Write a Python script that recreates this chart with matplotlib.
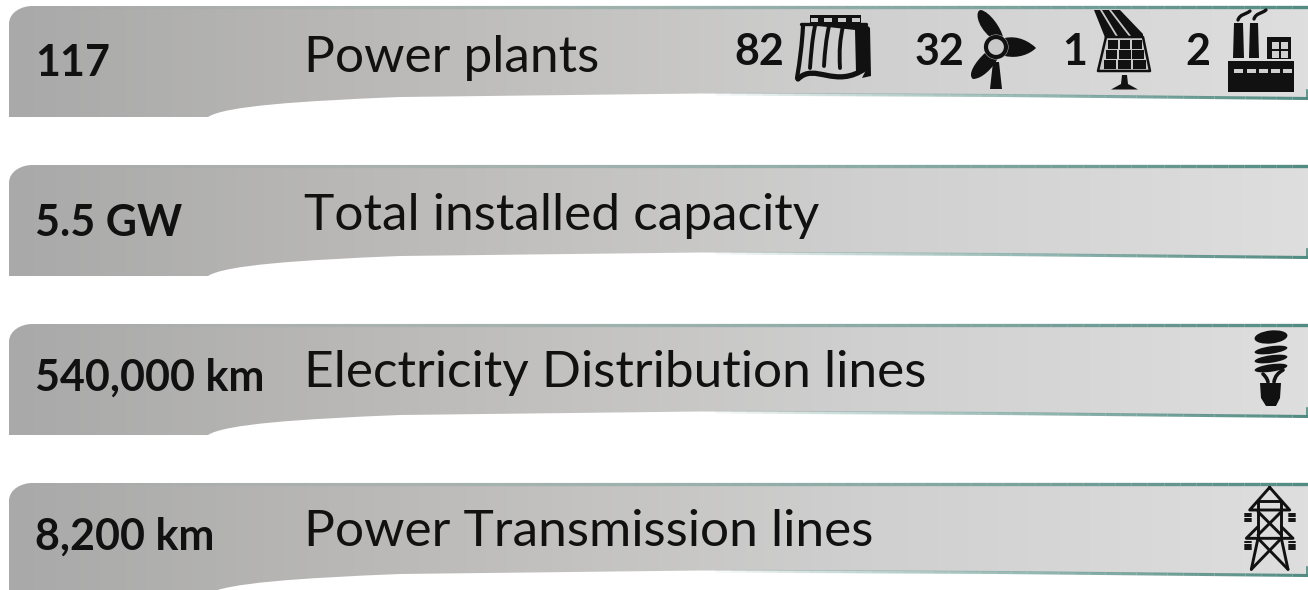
import matplotlib
matplotlib.use("Agg")
import matplotlib.pyplot as plt
from matplotlib.patches import PathPatch, Polygon, Circle, Rectangle, Ellipse
from matplotlib.path import Path
from matplotlib.collections import LineCollection
from matplotlib.colors import LinearSegmentedColormap
import numpy as np

values = ["117", "5.5 GW", "540,000 km", "8,200 km"]
labels = ["Power plants", "Total installed capacity",
          "Electricity Distribution lines", "Power Transmission lines"]
plant_counts = ["82", "32", "1", "2"]
plant_count_x = [759, 940, 1075, 1198]

tops = [6, 165, 324, 483]
value_base = [70, 71, 67, 67]
label_base = [66, 65, 63, 63]
INK = "#111111"
TEAL = "#4f8a80"
BG = "#c9c9c9"

plt.rcParams["font.family"] = ["Lato", "DejaVu Sans"]

fig = plt.figure(figsize=(13.08, 5.90), dpi=100)
ax = fig.add_axes([0, 0, 1, 1])
ax.set_xlim(0, 1308)
ax.set_ylim(590, 0)
ax.axis("off")

grey = LinearSegmentedColormap.from_list("g", ["#a9a9a9", "#bdbcba", "#d0d0d0", "#dedede"])


def banner(top):
    d = top - 6
    verts = [(9, 24 + d), (9, 12 + d), (22, 6 + d), (32, 6 + d), (1308, 6 + d),
             (1308, 98 + d), (1000, 94.5 + d), (700, 93.5 + d), (400, 97 + d),
             (300, 101 + d), (225, 106 + d), (208, 117 + d), (9, 117 + d), (9, 24 + d)]
    codes = [Path.MOVETO, Path.CURVE4, Path.CURVE4, Path.CURVE4, Path.LINETO,
             Path.LINETO, Path.LINETO, Path.LINETO, Path.LINETO,
             Path.CURVE4, Path.CURVE4, Path.CURVE4, Path.LINETO, Path.CLOSEPOLY]
    patch = PathPatch(Path(verts, codes), fc="none", ec="none")
    ax.add_patch(patch)
    grad = np.linspace(0, 1, 256).reshape(1, -1)
    im = ax.imshow(grad, cmap=grey, extent=(9, 1308, 118 + d, 6 + d), aspect="auto", zorder=1)
    im.set_clip_path(patch)
    ax.set_xlim(0, 1308)
    ax.set_ylim(590, 0)

    # teal edges fading in towards the right
    xs = np.linspace(40, 1308, 80)
    segs = [[(xs[i], 6.5 + d), (xs[i + 1], 6.5 + d)] for i in range(79)]
    cols = [(0.31, 0.54, 0.50, (x / 1308) ** 1.5) for x in xs[:-1]]
    ax.add_collection(LineCollection(segs, colors=cols, linewidths=2.4, zorder=2))
    xs = np.linspace(700, 1308, 40)
    ys = np.interp(xs, [700, 1000, 1308], [94, 95.5, 98.5]) + d
    segs = [[(xs[i], ys[i]), (xs[i + 1], ys[i + 1])] for i in range(39)]
    cols = [(0.31, 0.54, 0.50, ((x - 700) / 608) ** 0.8) for x in xs[:-1]]
    ax.add_collection(LineCollection(segs, colors=cols, linewidths=2.2, zorder=2))
    ax.plot([1307, 1307], [90 + d, 98 + d], color=TEAL, lw=1.2, zorder=2)


def poly(pts, fc=INK, z=4):
    ax.add_patch(Polygon(pts, closed=True, fc=fc, ec="none", zorder=z))


def stroke(pts, lw=1.6, c=INK, z=4):
    p = np.array(pts)
    ax.plot(p[:, 0], p[:, 1], color=c, lw=lw, solid_capstyle="round", zorder=z)


def curve(pts, lw=2.0, z=4):
    codes = [Path.MOVETO] + [Path.CURVE4] * (len(pts) - 1)
    ax.add_patch(PathPatch(Path(pts, codes), fc="none", ec=INK, lw=lw, capstyle="round", zorder=z))


def blade(pts):
    codes = [Path.MOVETO] + [Path.CURVE4] * 6 + [Path.CLOSEPOLY]
    ax.add_patch(PathPatch(Path(pts + [pts[0]], codes), fc=INK, ec="none", zorder=4))


def dam():
    poly([(810, 15), (861, 15), (861, 26), (810, 26)])
    for x in [810.5, 824, 838, 852]:
        ax.add_patch(Rectangle((x, 17.5), 7.5, 4.5, fc=BG, ec="none", zorder=5))
    poly([(801, 24), (866, 24), (870, 28), (871, 76), (862, 78), (866, 70), (856, 72), (855, 30)])
    curve([(803, 26), (802, 45), (800, 60), (797, 78)], lw=3.0)
    curve([(815, 26), (812, 40), (811, 55), (810, 68)], lw=2.8)
    curve([(829, 26), (826, 40), (825, 50), (824, 66)], lw=2.8)
    curve([(843, 26), (840, 40), (839, 50), (840, 68)], lw=2.8)
    stroke([(801, 24), (866, 24)], lw=2.4)
    curve([(798, 79), (815, 62), (835, 90), (866, 68)], lw=3.8, z=6)


def turbine():
    poly([(993, 62), (999, 62), (1002, 89), (990, 89)])
    blade([(990, 37), (976, 25), (975, 10), (981, 10), (990, 12), (1001, 28), (1003, 37)])
    blade([(1005, 38), (1018, 35), (1030, 42), (1036, 48), (1030, 54), (1018, 59), (1005, 56)])
    blade([(985, 53), (975, 62), (967, 75), (973, 79), (982, 79), (993, 68), (998, 58)])
    ax.add_patch(Circle((996, 47), 12.5, fc=BG, ec="none", zorder=5))
    ax.add_patch(Circle((996, 47), 10, fc="none", ec=INK, lw=3.0, zorder=6))


def solar():
    poly([(1094, 10), (1120, 10), (1143, 34), (1143, 40), (1106, 40)])
    stroke([(1101, 10), (1118, 38)], lw=1.3, c=BG, z=5)
    stroke([(1110, 10), (1130, 36)], lw=1.3, c=BG, z=5)
    poly([(1106, 37), (1143, 37), (1150, 71), (1098, 71)], fc=BG, z=5)
    stroke([(1106, 37), (1143, 37), (1150, 71), (1098, 71), (1106, 37)], lw=1.8, z=6)
    for r in range(3):
        for c in range(3):
            y = 39.5 + r * 10.4
            x = 1107.5 - r * 2.0 + c * (12 + r * 1.4)
            ax.add_patch(Rectangle((x, y), 10.5 + r * 1.2, 9, fc=INK, ec="none", zorder=6))
    poly([(1122, 75), (1127, 75), (1128, 84), (1138, 89.5), (1111, 89.5), (1121, 84)])


def factory():
    poly([(1228, 61), (1294, 61), (1294, 92), (1228, 92)])
    poly([(1234, 23), (1243, 23), (1244, 58), (1233, 58)])
    poly([(1250, 23), (1258, 23), (1259, 58), (1249, 58)])
    poly([(1267, 37), (1291, 37), (1291, 59), (1267, 59)])
    for x, y in [(1272, 42), (1281, 42), (1272, 51), (1281, 51)]:
        ax.add_patch(Rectangle((x, y), 6.5, 6.5, fc="#d0d0d0", ec="none", zorder=5))
    for x in [1234, 1247, 1259, 1271, 1283]:
        ax.add_patch(Rectangle((x, 68.5), 9, 4.5, fc="#d0d0d0", ec="none", zorder=5))
    curve([(1238, 20), (1240, 14), (1245, 15), (1250, 11)], lw=2.4)
    curve([(1254, 19), (1256, 13), (1261, 14), (1266, 10)], lw=2.4)


def bulb():
    ax.add_patch(Ellipse((1271, 337), 33, 13, angle=-6, fc=INK, ec="none", zorder=4))
    for y in [350, 359, 368]:
        ax.add_patch(Ellipse((1271, y), 33, 7.5, angle=-8, fc=INK, ec="none", zorder=4))
    curve([(1263, 374), (1265, 376), (1267, 378), (1268, 382)], lw=2.6)
    curve([(1283, 370), (1278, 373), (1275, 376), (1274, 382)], lw=2.6)
    poly([(1260, 383), (1281, 383), (1280, 398), (1276, 406), (1266, 406), (1261, 398)])


def pylon():
    def pt(x, y):
        return (1208 + x / 3, 480 + y / 3)

    lines = [
        [(185, 22), (125, 90), (245, 90), (185, 22)],
        [(150, 62), (220, 62)],
        [(150, 62), (150, 170)], [(220, 62), (220, 170)],
        [(150, 95), (220, 165)], [(220, 95), (150, 165)],
        [(150, 140), (115, 175), (255, 175), (220, 140)],
        [(150, 175), (130, 268)], [(220, 175), (240, 268)],
        [(150, 175), (240, 268)], [(220, 175), (130, 268)],
    ]
    for l in lines:
        stroke([pt(*p) for p in l], lw=2.1)
    for x0, x1, y0 in [(112, 130, 102), (243, 260, 102), (112, 130, 187), (243, 260, 187)]:
        for k in range(4):
            stroke([pt(x0, y0 + k * 7), pt(x1, y0 + k * 7)], lw=1.4)


for top, val, lab, vb, lb in zip(tops, values, labels, value_base, label_base):
    banner(top)
    ax.text(35, top + vb, val, fontsize=31, fontweight="bold", color=INK, va="baseline", zorder=7)
    ax.text(304, top + lb, lab, fontsize=37, color=INK, va="baseline", zorder=7)

for x, c in zip(plant_count_x, plant_counts):
    ax.text(x, 65, c, fontsize=31, fontweight="bold", color=INK, ha="center", va="baseline", zorder=7)

dam()
turbine()
solar()
factory()
bulb()
pylon()

fig.savefig("out.png", dpi=100)
